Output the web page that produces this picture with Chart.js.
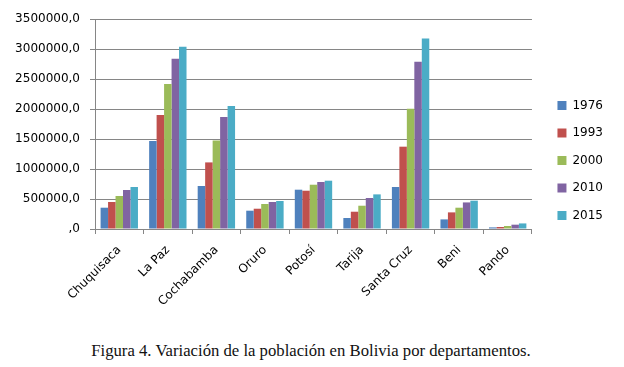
<!DOCTYPE html>
<html>
<head>
<meta charset="utf-8">
<script src="https://cdn.jsdelivr.net/npm/chart.js@4/dist/chart.umd.min.js"></script>
<style>
  body { margin: 0; background: #fff; }
  #wrap { position: relative; width: 624px; height: 367px; }
  #grafica { position: absolute; left: 0; top: 0; }
  #caption {
    position: absolute; left: 0; top: 341px; width: 622px;
    text-align: center; font-family: "Liberation Serif", serif;
    font-size: 16.7px; line-height: 20px; color: #111;
  }
</style>
</head>
<body>
<div id="wrap">
  <canvas id="grafica" width="624" height="330"></canvas>
  <div id="caption">Figura 4. Variación de la población en Bolivia por departamentos.</div>
</div>
<script>
const departamentos = ['Chuquisaca', 'La Paz', 'Cochabamba', 'Oruro', 'Potosí', 'Tarija', 'Santa Cruz', 'Beni', 'Pando'];
const anios = ['1976', '1993', '2000', '2010', '2015'];

const pob1976 = [355000, 1467000, 717000, 305000, 655000, 183000, 700000, 160000, 27000];
const pob1993 = [450000, 1900000, 1110000, 338000, 638000, 288000, 1372000, 277000, 33000];
const pob2000 = [550000, 2417000, 1477000, 417000, 738000, 388000, 2005000, 355000, 50000];
const pob2010 = [650000, 2838000, 1867000, 450000, 783000, 517000, 2788000, 443000, 72000];
const pob2015 = [700000, 3038000, 2050000, 467000, 805000, 577000, 3177000, 472000, 93000];

const series = [pob1976, pob1993, pob2000, pob2010, pob2015];
const colores = ['#4F81BD', '#C0504D', '#9BBB59', '#8064A2', '#4BACC6'];

const fuente = { family: 'DejaVu Sans', size: 12 };
const gris = '#868686';

// mueve la leyenda a la derecha y arriba, como en el original
const moverLeyenda = {
  id: 'moverLeyenda',
  afterLayout(chart) {
    chart.legend.left += 10;
    chart.legend.right += 10;
    chart.legend.top -= 14;
    chart.legend.bottom -= 14;
  }
};

new Chart(document.getElementById('grafica'), {
  type: 'bar',
  data: {
    labels: departamentos,
    datasets: series.map((d, i) => ({
      label: anios[i],
      data: d,
      backgroundColor: colores[i],
      borderWidth: 0,
      categoryPercentage: 0.77,
      barPercentage: 1.0
    }))
  },
  options: {
    responsive: false,
    animation: false,
    devicePixelRatio: 1,
    layout: { padding: { top: 19, right: 21, bottom: 0, left: 0 } },
    plugins: {
      tooltip: { enabled: false },
      legend: {
        position: 'right',
        labels: {
          boxWidth: 9,
          boxHeight: 9,
          padding: 15.5,
          color: '#000',
          font: fuente
        }
      }
    },
    scales: {
      x: {
        grid: { drawOnChartArea: false, offset: true, tickLength: 5, color: gris },
        border: { color: gris },
        ticks: {
          color: '#000', font: fuente, autoSkip: false,
          minRotation: 45, maxRotation: 45, padding: 9
        },
        afterFit(scale) { scale.height = 101; }
      },
      y: {
        min: 0,
        max: 3500000,
        grid: { color: gris, tickLength: 5 },
        border: { color: gris },
        ticks: {
          stepSize: 500000,
          color: '#000',
          font: fuente,
          padding: 10,
          callback: v => (v === 0 ? ',0' : v + ',0')
        },
        afterFit(scale) { scale.width = 95; }
      }
    }
  },
  plugins: [moverLeyenda]
});
</script>
</body>
</html>
